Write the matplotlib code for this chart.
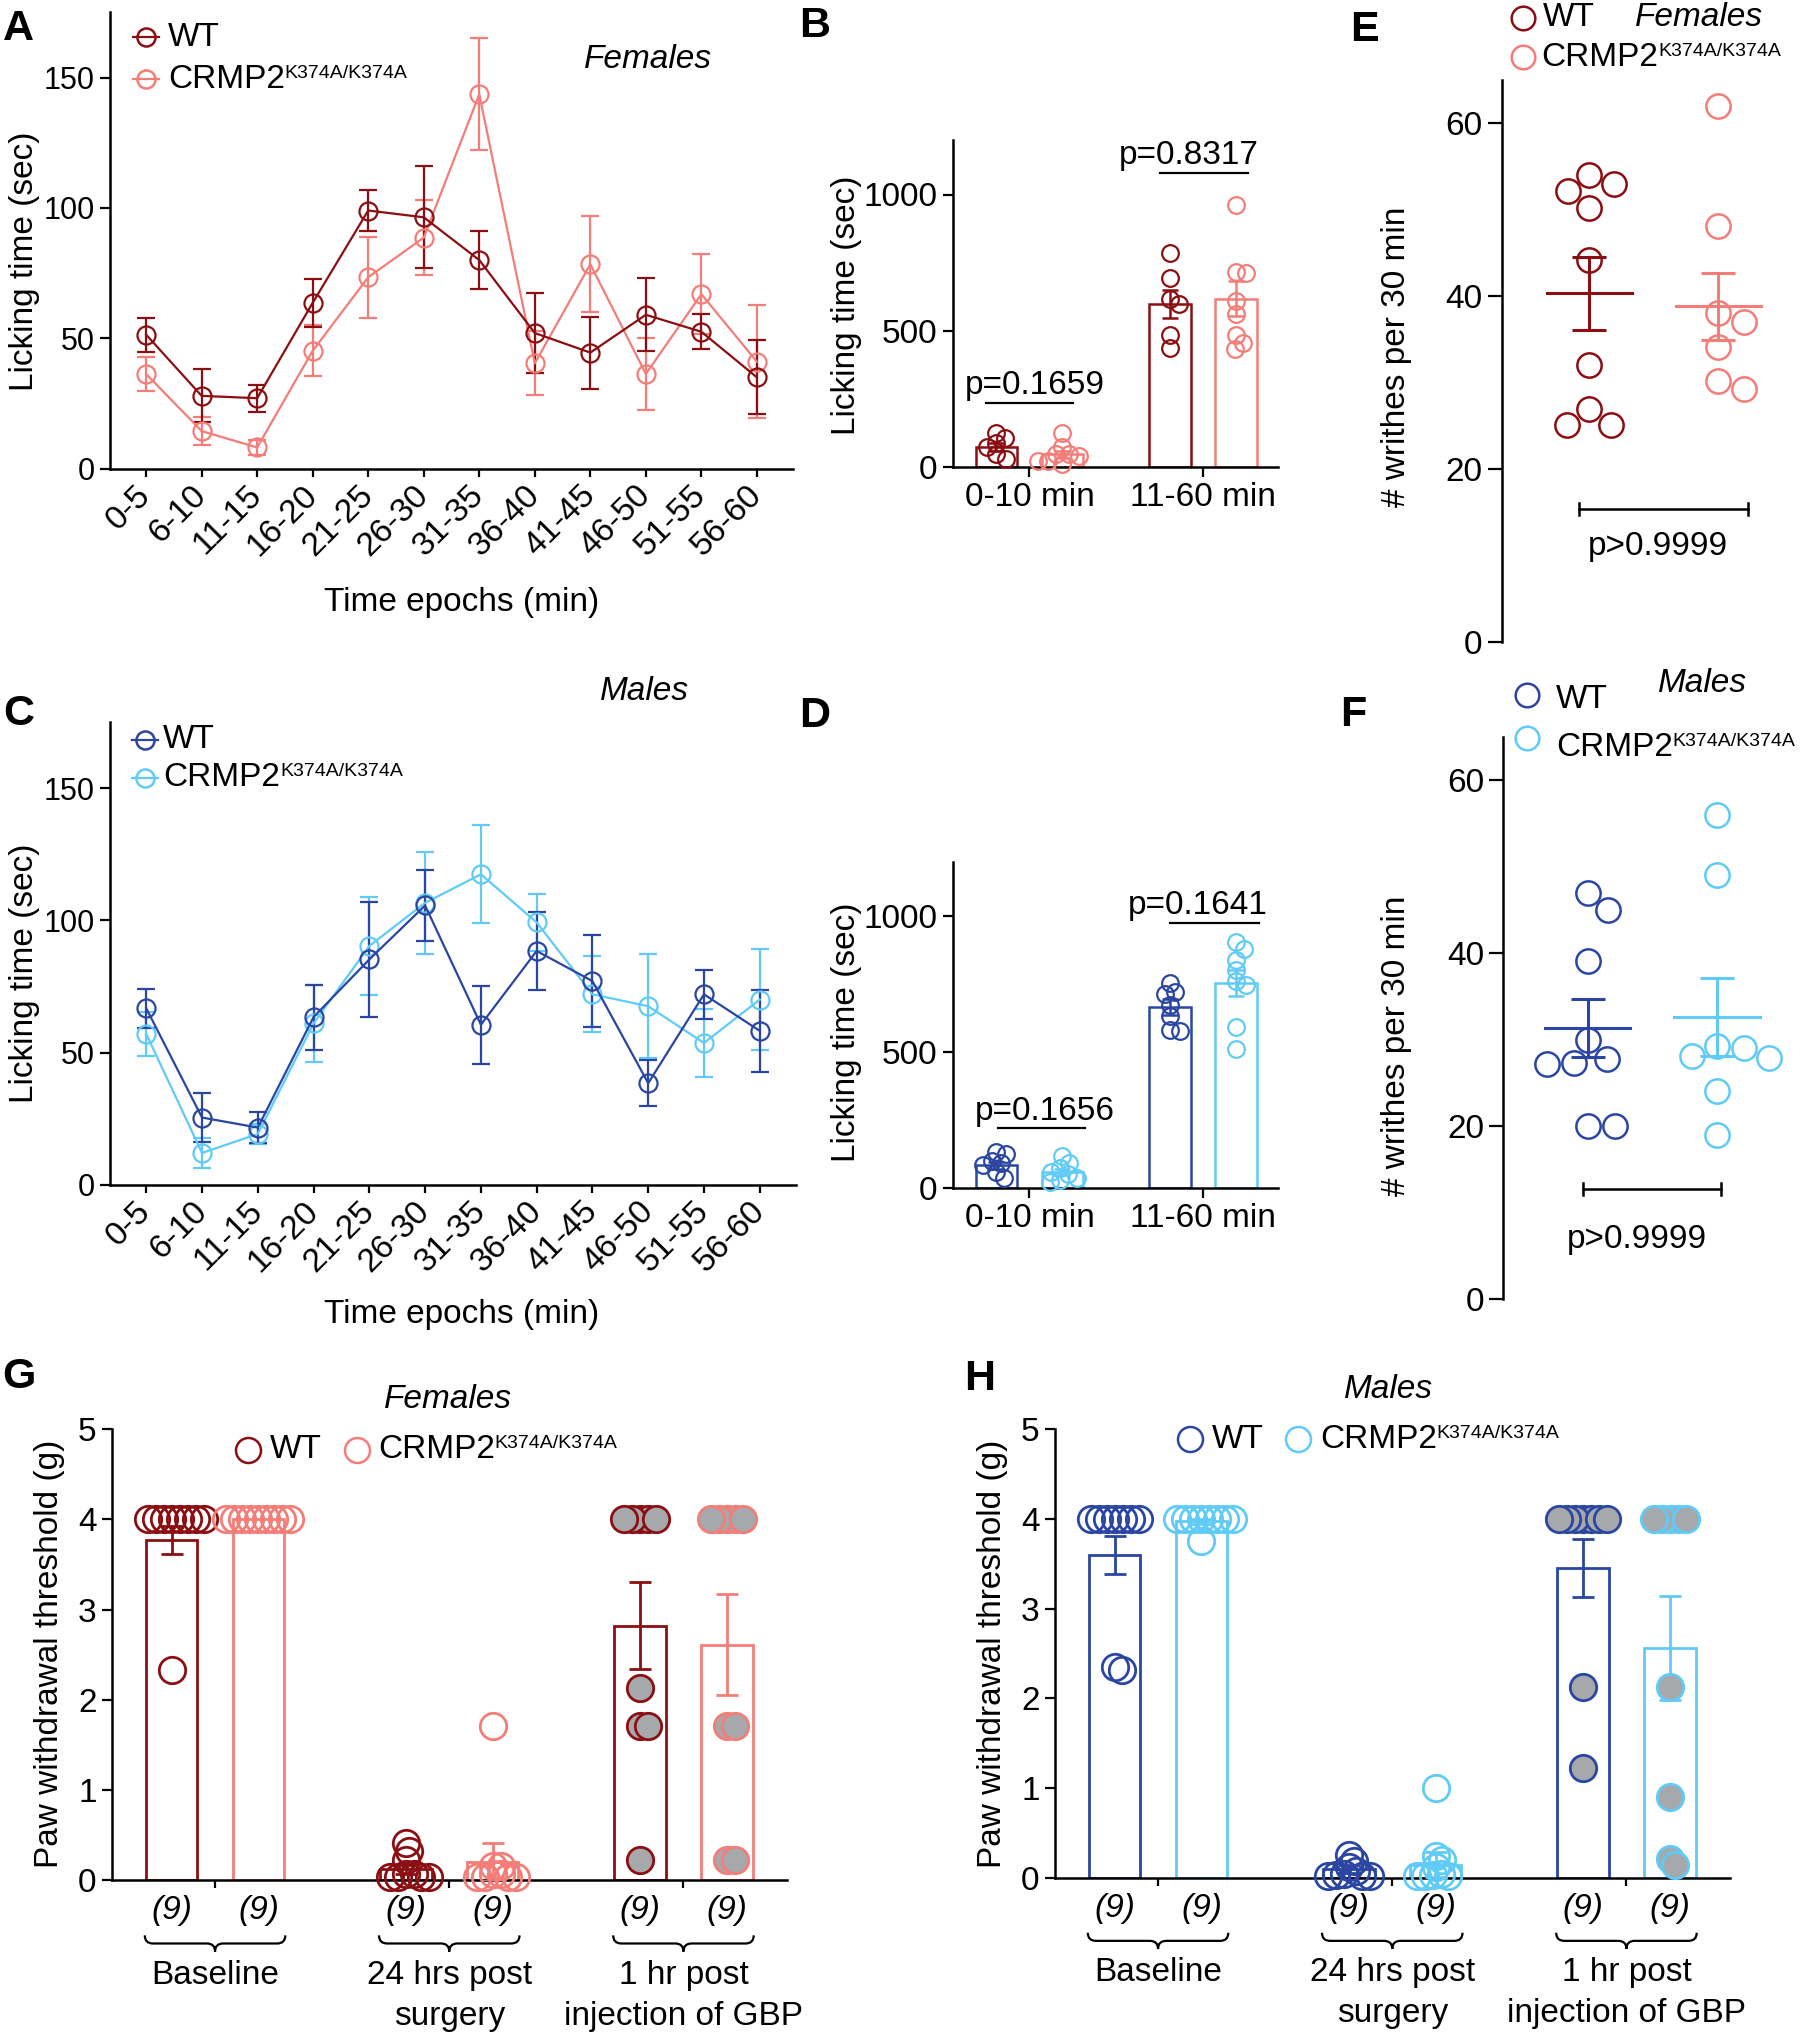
import numpy as np
import matplotlib
matplotlib.use('Agg')
import matplotlib.pyplot as plt
from matplotlib.lines import Line2D
from matplotlib.path import Path
from matplotlib.patches import PathPatch

# Tamaño final en pixeles
W, H = 1800, 2037
plt.rcParams['font.family'] = ['Liberation Sans', 'DejaVu Sans']
plt.rcParams['axes.linewidth'] = 1.8

# Colores
rojo = '#8b0f12'
salmon = '#f47d78'
azul = '#2a46a2'
celeste = '#5fcbf6'
gris = '#a7a8ab'

# ---------------- Datos ----------------
epocas = ['0-5', '6-10', '11-15', '16-20', '21-25', '26-30',
          '31-35', '36-40', '41-45', '46-50', '51-55', '56-60']

# A: hembras, tiempo de lamido por epoca
a_wt = [51.4, 27.9, 27.0, 63.6, 99.0, 96.4, 80.0, 52.0, 44.5, 59.0, 52.5, 35.0]
a_wt_err = [6.5, 10.2, 5.2, 9.2, 8.0, 19.5, 11.0, 15.2, 13.8, 14.0, 6.7, 14.2]
a_ko = [36.3, 14.4, 8.1, 45.2, 73.4, 88.6, 143.6, 40.4, 78.4, 36.3, 66.9, 41.0]
a_ko_err = [6.6, 5.5, 3.0, 9.8, 15.5, 14.5, 21.5, 12.2, 18.5, 13.7, 15.3, 21.6]

# C: machos
c_wt = [66.7, 25.4, 21.6, 63.4, 85.2, 105.6, 60.5, 88.4, 77.0, 38.4, 72.0, 58.2]
c_wt_err = [7.3, 9.4, 5.8, 12.3, 21.7, 13.5, 14.8, 14.6, 17.4, 8.7, 9.3, 15.4]
c_ko = [57.0, 12.0, 19.2, 61.0, 90.3, 106.6, 117.4, 99.2, 72.0, 67.5, 53.6, 70.0]
c_ko_err = [8.2, 5.5, 3.9, 14.7, 18.4, 19.2, 18.6, 10.9, 14.4, 19.7, 12.7, 19.0]

fases = ['0-10 min', '11-60 min']

# B: hembras, suma por fase
b_wt_media = [74, 599]
b_wt_sem = [15, 51]
b_ko_media = [46, 617]
b_ko_sem = [12, 64]
b_wt_puntos = [[126, 108, 88, 72, 46, 31], [784, 694, 617, 597, 483, 435]]
b_ko_puntos = [[123, 74, 46, 46, 39, 23, 23, 12],
               [960, 717, 713, 609, 563, 483, 455, 432]]
b_p = ['p=0.1659', 'p=0.8317']

# D: machos
d_wt_media = [84, 665]
d_wt_sem = [12, 30]
d_ko_media = [60, 753]
d_ko_sem = [11, 48]
d_wt_puntos = [[132, 124, 100, 92, 84, 60, 37], [753, 721, 713, 673, 634, 583, 578]]
d_ko_puntos = [[119, 92, 76, 60, 52, 37, 29, 21],
               [904, 880, 840, 801, 761, 748, 594, 511]]
d_p = ['p=0.1656', 'p=0.1641']

# E / F: contorsiones en 30 min
e_wt = [54.0, 52.9, 52.1, 50.2, 44.2, 32.0, 26.9, 25.1, 25.1]
e_ko = [62.0, 48.1, 38.0, 37.0, 34.1, 30.2, 29.2]
e_wt_media, e_wt_sem = 40.3, 4.25
e_ko_media, e_ko_sem = 38.8, 3.9

f_wt = [47.0, 45.0, 39.1, 30.0, 27.8, 27.3, 27.2, 20.0, 20.0]
f_ko = [56.0, 49.0, 29.2, 29.0, 28.1, 27.9, 24.0, 19.0]
f_wt_media, f_wt_sem = 31.3, 3.35
f_ko_media, f_ko_sem = 32.6, 4.5
p_ef = 'p>0.9999'

# G / H: umbral de retirada de la pata
grupos = ['Baseline', '24 hrs post\nsurgery', '1 hr post\ninjection of GBP']
n_grupo = ['(9)', '(9)', '(9)']

g_wt_media = [3.77, 0.12, 2.82]
g_wt_sem = [0.16, 0.05, 0.48]
g_ko_media = [4.0, 0.2, 2.61]
g_ko_sem = [0.0, 0.21, 0.56]
g_wt_puntos = [[4, 4, 4, 4, 4, 4, 4, 4, 2.33],
               [0.41, 0.33, 0.22, 0.07, 0.07, 0.04, 0.04, 0.04, 0.04],
               [4, 4, 4, 4, 4, 2.13, 1.71, 1.71, 0.22]]
g_ko_puntos = [[4, 4, 4, 4, 4, 4, 4, 4, 4],
               [1.71, 0.16, 0.16, 0.07, 0.07, 0.04, 0.04, 0.04, 0.04],
               [4, 4, 4, 4, 4, 1.71, 1.71, 0.22, 0.22]]

h_wt_media = [3.6, 0.1, 3.45]
h_wt_sem = [0.21, 0.04, 0.32]
h_ko_media = [3.97, 0.15, 2.56]
h_ko_sem = [0.03, 0.14, 0.58]
h_wt_puntos = [[4, 4, 4, 4, 4, 4, 4, 2.35, 2.32],
               [0.26, 0.19, 0.12, 0.08, 0.05, 0.03, 0.02, 0.02, 0.02],
               [4, 4, 4, 4, 4, 4, 4, 2.13, 1.23]]
h_ko_puntos = [[4, 4, 4, 4, 4, 4, 4, 4, 3.75],
               [1.0, 0.25, 0.2, 0.12, 0.05, 0.03, 0.02, 0.02, 0.02],
               [4, 4, 4, 4, 4, 2.13, 0.9, 0.21, 0.14]]

fig = plt.figure(figsize=(W / 100, H / 100), dpi=100)
render = fig.canvas.get_renderer()


def ejes_px(x0, x1, y0, y1):
    # rectangulo en pixeles (y hacia abajo)
    return fig.add_axes([x0 / W, 1 - y1 / H, (x1 - x0) / W, (y1 - y0) / H])


def texto(x, y, s, **kw):
    return fig.text(x / W, 1 - y / H, s, **kw)


def estilo(ax, tam):
    ax.spines['top'].set_visible(False)
    ax.spines['right'].set_visible(False)
    ax.tick_params(direction='out', length=7, width=1.6, labelsize=tam, pad=4)


def enjambre(valores, sx, sy, d):
    # desplazamientos horizontales para que los circulos no se pisen
    puestos, desp = [], []
    for v in valores:
        y = v * sy
        cands = [0.0]
        for px, py in puestos:
            dy = y - py
            if abs(dy) < d:
                dx = np.sqrt(d * d - dy * dy)
                cands += [px + dx, px - dx]
        cands.sort(key=lambda c: (abs(c), -c))
        elegido = 0.0
        for c in cands:
            if all((c - px) ** 2 + (y - py) ** 2 >= d * d - 1e-6 for px, py in puestos):
                elegido = c
                break
        puestos.append((elegido, y))
        desp.append(elegido / sx)
    return np.array(desp)


def etiqueta_crmp(x, y, tam, tam_sup, **kw):
    t = texto(x, y, 'CRMP2', fontsize=tam, ha='left', va='center', **kw)
    bb = t.get_window_extent(renderer=render)
    fig.text(bb.x1 / W, (bb.y1 - 1) / H, 'K374A/K374A', fontsize=tam_sup,
             ha='left', va='top')


def circulo_fig(x, y, color, ms, con_linea=False):
    if con_linea:
        fig.add_artist(Line2D([(x - 13) / W, (x + 13) / W], [1 - y / H, 1 - y / H],
                              color=color, lw=1.6, transform=fig.transFigure))
    fig.add_artist(Line2D([x / W], [1 - y / H], marker='o', ms=ms, mfc='none',
                          mec=color, mew=1.8, ls='none', transform=fig.transFigure))


# ---------------- Paneles A y C ----------------
def panel_linea(caja, wt, wt_err, ko, ko_err, col_wt, col_ko):
    ax = ejes_px(*caja)
    x = np.arange(len(epocas))
    for y, e, c in [(ko, ko_err, col_ko), (wt, wt_err, col_wt)]:
        ax.errorbar(x, y, yerr=e, color=c, lw=1.6, elinewidth=1.6, capsize=6.5,
                    capthick=1.6, marker='o', ms=13, mfc='none', mec=c, mew=1.6,
                    clip_on=False)
    ax.set_xlim(-0.65, 11.65)
    ax.set_ylim(0, 175)
    ax.set_yticks([0, 50, 100, 150])
    ax.set_xticks(x)
    ax.set_xticklabels(epocas, rotation=45, ha='right', va='center',
                       rotation_mode='anchor')
    estilo(ax, 22)
    ax.tick_params(axis='x', pad=10, length=6, labelsize=24)
    return ax


panel_linea((110, 793, 12.4, 468.6), a_wt, a_wt_err, a_ko, a_ko_err, rojo, salmon)
panel_linea((110, 796, 722, 1184.7), c_wt, c_wt_err, c_ko, c_ko_err, azul, celeste)

texto(25, 261, 'Licking time (sec)', fontsize=24, rotation=90, ha='center', va='center')
texto(462, 602, 'Time epochs (min)', fontsize=24, ha='center', va='center')
texto(25, 973, 'Licking time (sec)', fontsize=24, rotation=90, ha='center', va='center')
texto(462, 1315, 'Time epochs (min)', fontsize=24, ha='center', va='center')

# leyendas A y C
circulo_fig(146, 37, rojo, 13, True)
texto(168, 37, 'WT', fontsize=24, va='center')
circulo_fig(146, 79, salmon, 13, True)
etiqueta_crmp(168, 79, 24, 14)
texto(584, 60, 'Females', fontsize=24, style='italic', va='center')

circulo_fig(145, 740, azul, 13, True)
texto(163, 740, 'WT', fontsize=24, va='center')
circulo_fig(145, 778, celeste, 13, True)
etiqueta_crmp(163, 778, 24, 14)
texto(600, 692, 'Males', fontsize=24, style='italic', va='center')


# ---------------- Paneles B y D ----------------
def panel_barras(caja, wt_m, wt_s, ko_m, ko_s, wt_pts, ko_pts, col_wt, col_ko, pvals, pos_p):
    ax = ejes_px(*caja)
    xmin, xmax, ymax = -0.44, 1.43, 1200
    ax.set_xlim(xmin, xmax)
    ax.set_ylim(0, ymax)
    sx = (caja[1] - caja[0]) / (xmax - xmin)
    sy = (caja[3] - caja[2]) / ymax
    for i in range(2):
        for off, m, s, pts, c in [(-0.19, wt_m[i], wt_s[i], wt_pts[i], col_wt),
                                  (0.19, ko_m[i], ko_s[i], ko_pts[i], col_ko)]:
            ax.bar(i + off, m, width=0.24, facecolor='white', edgecolor=c, lw=1.8, zorder=2)
            ax.errorbar(i + off, m, yerr=s, color=c, lw=1.8, capsize=6, capthick=1.8, zorder=3)
            dx = enjambre(pts, sx, sy, 10)
            ax.plot(i + off + dx, pts, 'o', ms=12, mfc='none', mec=c, mew=1.6,
                    zorder=4, clip_on=False)
    for i in range(2):
        xt, yt, x0, x1, yl = pos_p[i]
        ax.plot([i + x0, i + x1], [yl, yl], color='black', lw=1.6, clip_on=False)
        ax.text(i + xt, yt, pvals[i], fontsize=24, ha='center', va='center')
    ax.set_yticks([0, 500, 1000])
    ax.set_xticks([0, 1])
    ax.set_xticklabels(fases)
    estilo(ax, 24)
    return ax


panel_barras((953, 1278, 140, 467), b_wt_media, b_wt_sem, b_ko_media, b_ko_sem,
             b_wt_puntos, b_ko_puntos, rojo, salmon, b_p,
             [(0.03, 300, -0.25, 0.25, 235), (-0.085, 1142, -0.25, 0.255, 1080)])
panel_barras((953, 1278, 861.6, 1188.2), d_wt_media, d_wt_sem, d_ko_media, d_ko_sem,
             d_wt_puntos, d_ko_puntos, azul, celeste, d_p,
             [(0.09, 283, -0.18, 0.32, 220), (-0.03, 1040, -0.19, 0.32, 976)])

texto(846, 305, 'Licking time (sec)', fontsize=24, rotation=90, ha='center', va='center')
texto(846, 1032, 'Licking time (sec)', fontsize=24, rotation=90, ha='center', va='center')


# ---------------- Paneles E y F ----------------
def panel_puntos(caja, xlim, wt, ko, wt_m, wt_s, ko_m, ko_s, col_wt, col_ko, corchete):
    ax = ejes_px(*caja)
    ax.set_xlim(*xlim)
    ax.set_ylim(0, 65)
    sx = (caja[1] - caja[0]) / (xlim[1] - xlim[0])
    sy = (caja[3] - caja[2]) / 65
    for x, pts, m, s, c in [(0, wt, wt_m, wt_s, col_wt), (1, ko, ko_m, ko_s, col_ko)]:
        dx = enjambre(pts, sx, sy, 27)
        ax.plot(x + dx, pts, 'o', ms=17.5, mfc='none', mec=c, mew=1.8, zorder=3)
        ax.plot([x - 0.33, x + 0.33], [m, m], color=c, lw=2.2, zorder=4)
        ax.errorbar(x, m, yerr=s, color=c, lw=2.2, capsize=12, capthick=2.2, zorder=4)
    x0, x1, yc, xt, yt = corchete
    ax.plot([x0, x1], [yc, yc], color='black', lw=1.8)
    ax.plot([x0, x0], [yc - 0.7, yc + 0.7], color='black', lw=1.8)
    ax.plot([x1, x1], [yc - 0.7, yc + 0.7], color='black', lw=1.8)
    ax.text(xt, yt, p_ef, fontsize=24, ha='center', va='center')
    ax.spines['bottom'].set_visible(False)
    ax.set_xticks([])
    ax.set_yticks([0, 20, 40, 60])
    estilo(ax, 24)
    ax.tick_params(axis='y', length=10)
    return ax


panel_puntos((1501.5, 1789, 79.7, 642), (-0.68, 1.55), e_wt, e_ko, e_wt_media, e_wt_sem,
             e_ko_media, e_ko_sem, rojo, salmon, (-0.08, 1.23, 15.4, 0.535, 11.0))
panel_puntos((1503.4, 1791, 737, 1298.8), (-0.65, 1.57), f_wt, f_ko, f_wt_media, f_wt_sem,
             f_ko_media, f_ko_sem, azul, celeste, (-0.036, 1.03, 12.7, 0.38, 6.9))

texto(1396, 357, '# writhes per 30 min', fontsize=24, rotation=90, ha='center', va='center')
texto(1396, 1046, '# writhes per 30 min', fontsize=24, rotation=90, ha='center', va='center')

circulo_fig(1523, 18, rojo, 17)
texto(1543, 18, 'WT', fontsize=24, va='center')
circulo_fig(1523, 57, salmon, 17)
etiqueta_crmp(1541, 57, 24, 14)
texto(1635, 18, 'Females', fontsize=24, style='italic', va='center')

circulo_fig(1527, 695, azul, 17)
texto(1556, 700, 'WT', fontsize=24, va='center')
circulo_fig(1527, 738, celeste, 17)
etiqueta_crmp(1556, 747, 24, 14)
texto(1658, 684, 'Males', fontsize=24, style='italic', va='center')


# ---------------- Paneles G y H ----------------
def llave(ax, x0, x1, y_top, y_mid, y_tip):
    xc = (x0 + x1) / 2
    r = 0.035
    verts = [(x0, y_top), (x0, y_mid), (x0 + r, y_mid), (xc - r, y_mid),
             (xc, y_mid), (xc, y_tip), (xc, y_mid), (xc + r, y_mid),
             (x1 - r, y_mid), (x1, y_mid), (x1, y_top)]
    codes = [Path.MOVETO, Path.CURVE3, Path.CURVE3, Path.LINETO,
             Path.CURVE3, Path.CURVE3, Path.CURVE3, Path.CURVE3,
             Path.LINETO, Path.CURVE3, Path.CURVE3]
    ax.add_patch(PathPatch(Path(verts, codes), fill=False, lw=1.6,
                           edgecolor='black', clip_on=False))


def panel_umbral(caja, wt_m, wt_s, ko_m, ko_s, wt_pts, ko_pts, col_wt, col_ko):
    ax = ejes_px(*caja)
    xmin, xmax = -0.44, 2.44
    ax.set_xlim(xmin, xmax)
    ax.set_ylim(0, 5)
    sx = (caja[1] - caja[0]) / (xmax - xmin)
    sy = (caja[3] - caja[2]) / 5
    for i in range(3):
        relleno = gris if i == 2 else 'none'
        for off, m, s, pts, c in [(-0.185, wt_m[i], wt_s[i], wt_pts[i], col_wt),
                                  (0.185, ko_m[i], ko_s[i], ko_pts[i], col_ko)]:
            ax.bar(i + off, m, width=0.22, facecolor='white', edgecolor=c, lw=2.0, zorder=2)
            if s > 0:
                ax.errorbar(i + off, m, yerr=s, color=c, lw=2.0, capsize=8,
                            capthick=2.0, zorder=3)
            dx = enjambre(pts, sx, sy, 8)
            ax.plot(i + off + dx, pts, 'o', ms=19, mfc=relleno, mec=c, mew=2.0,
                    zorder=4, clip_on=False)
            ax.text(i + off, -0.34, n_grupo[i], fontsize=24, style='italic',
                    ha='center', va='center')
        llave(ax, i - 0.3, i + 0.3, -0.61, -0.70, -0.79)
        # cada renglon de la etiqueta por separado
        for k, renglon in enumerate(grupos[i].split('\n')):
            ax.text(i, -1.05 - 0.46 * k, renglon, fontsize=24, ha='center', va='center')
    ax.set_xticks([0, 1, 2])
    ax.set_xticklabels([])
    ax.set_yticks([0, 1, 2, 3, 4, 5])
    estilo(ax, 24)
    ax.tick_params(axis='x', length=6)
    return ax


panel_umbral((112, 786.5, 1429, 1880.3), g_wt_media, g_wt_sem, g_ko_media, g_ko_sem,
             g_wt_puntos, g_ko_puntos, rojo, salmon)
panel_umbral((1055, 1729.5, 1429, 1878), h_wt_media, h_wt_sem, h_ko_media, h_ko_sem,
             h_wt_puntos, h_ko_puntos, azul, celeste)

texto(50, 1654, 'Paw withdrawal threshold (g)', fontsize=24, rotation=90,
      ha='center', va='center')
texto(992, 1654, 'Paw withdrawal threshold (g)', fontsize=24, rotation=90,
      ha='center', va='center')

circulo_fig(248, 1450, rojo, 18)
texto(270, 1450, 'WT', fontsize=24, va='center')
circulo_fig(357, 1450, salmon, 18)
etiqueta_crmp(378, 1450, 24, 14)
texto(448, 1399, 'Females', fontsize=24, style='italic', ha='center', va='center')

circulo_fig(1190, 1439, azul, 18)
texto(1212, 1439, 'WT', fontsize=24, va='center')
circulo_fig(1298, 1439, celeste, 18)
etiqueta_crmp(1320, 1439, 24, 14)
texto(1389, 1390, 'Males', fontsize=24, style='italic', ha='center', va='center')

# Letras de los paneles
for letra, x, y in [('A', 3, 29), ('B', 799, 26), ('E', 1350, 30),
                    ('C', 3, 714), ('D', 799, 716), ('F', 1340, 715),
                    ('G', 2, 1377), ('H', 964, 1379)]:
    texto(x, y, letra, fontsize=31, fontweight='bold', va='center')

fig.savefig('out.png', dpi=100)
